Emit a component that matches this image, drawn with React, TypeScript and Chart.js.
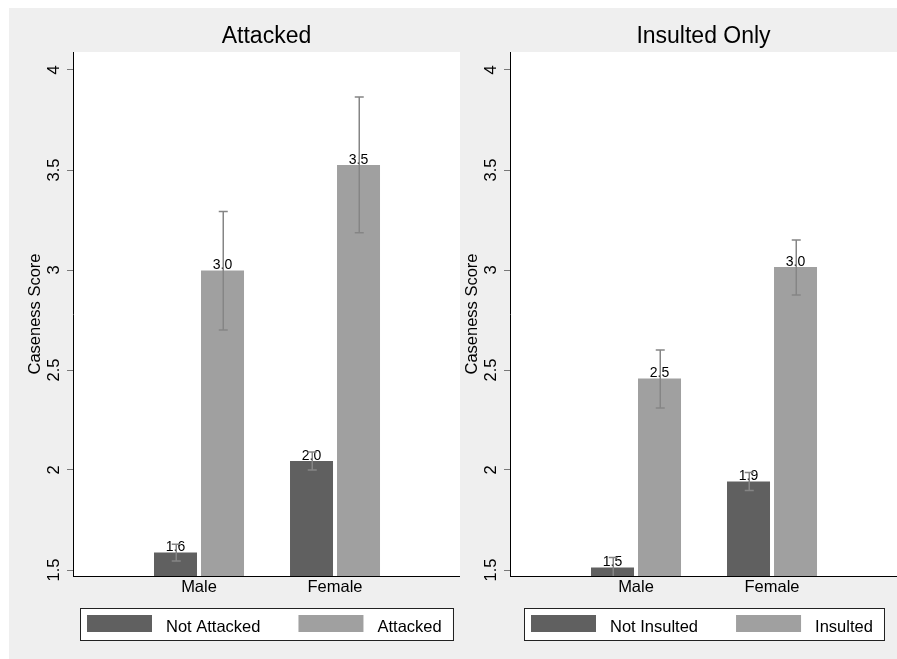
import React, { useEffect, useRef } from 'react';
import { Chart, registerables } from 'chart.js';

Chart.register(...registerables);

const FONT = "'Liberation Sans', Arial, Helvetica, sans-serif";

// ---- shared axis data ----
const categories = ['Male', 'Female'];
const yTicks = [1.5, 2, 2.5, 3, 3.5, 4];
const yAxisTitle = 'Caseness Score';
const Y_MIN = 1.47;
const Y_MAX = 4.09;
const X_MIN = 0.0735;
const X_MAX = 2.919;

// ---- panel 1: Attacked ----
const attackedPanelTitle = 'Attacked';
const notAttackedLabel = 'Not Attacked';
const notAttackedMean = [1.587, 2.045];
const notAttackedLow = [1.545, 2.0];
const notAttackedHigh = [1.629, 2.09];
const attackedLabel = 'Attacked';
const attackedMean = [2.997, 3.525];
const attackedLow = [2.70, 3.186];
const attackedHigh = [3.293, 3.865];

// ---- panel 2: Insulted Only ----
const insultedPanelTitle = 'Insulted Only';
const notInsultedLabel = 'Not Insulted';
const notInsultedMean = [1.513, 1.943];
const notInsultedLow = [1.463, 1.897];
const notInsultedHigh = [1.563, 1.987];
const insultedLabel = 'Insulted';
const insultedMean = [2.457, 3.015];
const insultedLow = [2.31, 2.875];
const insultedHigh = [2.60, 3.15];

const DARK = '#606060';
const LIGHT = '#a0a0a0';
const ERR = '#858585';

const decorPlugin = {
  id: 'panelDecor',
  beforeDraw(chart: any) {
    const { ctx, chartArea: a } = chart;
    ctx.save();
    ctx.fillStyle = '#ffffff';
    ctx.fillRect(a.left, a.top, a.right - a.left, a.bottom - a.top);
    ctx.restore();
  },
  afterDatasetsDraw(chart: any) {
    const { ctx, chartArea: a } = chart;
    const yScale = chart.scales.y;
    ctx.save();
    // value labels
    ctx.fillStyle = '#000';
    ctx.font = `14px ${FONT}`;
    ctx.textAlign = 'center';
    ctx.textBaseline = 'alphabetic';
    chart.data.datasets.forEach((ds: any, i: number) => {
      const meta = chart.getDatasetMeta(i);
      meta.data.forEach((bar: any, j: number) => {
        const v = ds.data[j].y;
        ctx.fillText(v.toFixed(1), bar.x, bar.y - 1.5);
      });
    });
    // error bars
    ctx.beginPath();
    ctx.rect(a.left, a.top, a.right - a.left, a.bottom - a.top);
    ctx.clip();
    ctx.strokeStyle = ERR;
    ctx.lineWidth = 1.5;
    chart.data.datasets.forEach((ds: any, i: number) => {
      const meta = chart.getDatasetMeta(i);
      meta.data.forEach((bar: any, j: number) => {
        const lo = yScale.getPixelForValue(ds.errLow[j]);
        const hi = yScale.getPixelForValue(ds.errHigh[j]);
        const x = Math.round(bar.x) + 0.25;
        ctx.beginPath();
        ctx.moveTo(x, lo);
        ctx.lineTo(x, hi);
        ctx.moveTo(x - 4.5, lo);
        ctx.lineTo(x + 4.5, lo);
        ctx.moveTo(x - 4.5, hi);
        ctx.lineTo(x + 4.5, hi);
        ctx.stroke();
      });
    });
    ctx.restore();
  },
  afterDraw(chart: any) {
    const { ctx, chartArea: a } = chart;
    const ds = chart.data.datasets;
    ctx.save();
    ctx.font = `16.5px ${FONT}`;
    const w1 = ctx.measureText(ds[0].label).width;
    const w2 = ctx.measureText(ds[1].label).width;
    const sw = 65, sh = 17, gap = 14, colGap = 38, padL = 7, padR = 11;
    const boxW = padL + sw + gap + w1 + colGap + sw + gap + w2 + padR;
    const cx = (a.left + a.right) / 2;
    const bx = Math.round(cx - boxW / 2);
    const by = a.bottom + 32;
    const bh = 32;
    ctx.fillStyle = '#ffffff';
    ctx.fillRect(bx, by, boxW, bh);
    ctx.strokeStyle = '#222';
    ctx.lineWidth = 1;
    ctx.strokeRect(bx + 0.5, by + 0.5, Math.round(boxW), bh);
    let x = bx + padL;
    const sy = by + 7;
    [0, 1].forEach((k) => {
      ctx.fillStyle = ds[k].backgroundColor;
      ctx.fillRect(x, sy, sw, sh);
      x += sw + gap;
      ctx.fillStyle = '#000';
      ctx.textAlign = 'left';
      ctx.textBaseline = 'alphabetic';
      ctx.fillText(ds[k].label, x, by + 23.5);
      x += (k === 0 ? w1 : w2) + colGap;
    });
    ctx.restore();
  },
};

function makeDataset(label: string, color: string, mean: number[], low: number[], high: number[]) {
  return {
    label,
    data: categories.map((_, i) => ({ x: i + 1, y: mean[i] })),
    backgroundColor: color,
    borderWidth: 0,
    categoryPercentage: 0.69118,
    barPercentage: 0.91489,
    errLow: low,
    errHigh: high,
  };
}

function makeConfig(title: string, datasets: any[], padLeft: number): any {
  return {
    type: 'bar',
    data: { datasets },
    options: {
      animation: false,
      responsive: false,
      events: [],
      layout: { padding: { left: padLeft, top: 0, right: 0, bottom: 0 } },
      plugins: {
        legend: { display: false },
        tooltip: { enabled: false },
        title: {
          display: true,
          text: title,
          fullSize: false,
          color: '#000',
          font: { family: FONT, size: 23, weight: 'normal', lineHeight: 1.2 },
          padding: { top: 14.5, bottom: 1.9 },
        },
      },
      scales: {
        x: {
          type: 'linear',
          min: X_MIN,
          max: X_MAX,
          offset: false,
          grid: { display: false, drawTicks: false },
          border: { display: true, color: '#000', width: 1 },
          afterBuildTicks: (s: any) => {
            s.ticks = categories.map((_, i) => ({ value: i + 1 }));
          },
          afterFit: (s: any) => {
            s.height = 83;
          },
          ticks: {
            callback: (v: number) => categories[Math.round(v) - 1] ?? '',
            color: '#000',
            font: { family: FONT, size: 16.5 },
            padding: 1.5,
            minRotation: 0,
            maxRotation: 0,
            autoSkip: false,
          },
        },
        y: {
          type: 'linear',
          min: Y_MIN,
          max: Y_MAX,
          afterBuildTicks: (s: any) => {
            s.ticks = yTicks.map((v) => ({ value: v }));
          },
          afterFit: (s: any) => {
            s.width = 50;
          },
          grid: { drawOnChartArea: false, drawTicks: true, tickLength: 6, color: '#777', lineWidth: 1 },
          border: { display: true, color: '#000', width: 1 },
          ticks: {
            callback: (v: number) => String(v),
            minRotation: 90,
            maxRotation: 90,
            crossAlign: 'center',
            padding: 1.5,
            autoSkip: false,
            color: '#000',
            font: { family: FONT, size: 16.5 },
          },
          title: {
            display: true,
            text: yAxisTitle,
            color: '#000',
            font: { family: FONT, size: 16.5 },
            padding: { top: 2.1, bottom: 0 },
          },
        },
      },
    },
    plugins: [decorPlugin],
  };
}

export default function App() {
  const leftRef = useRef<HTMLCanvasElement | null>(null);
  const rightRef = useRef<HTMLCanvasElement | null>(null);

  useEffect(() => {
    const left = new Chart(
      leftRef.current as HTMLCanvasElement,
      makeConfig(
        attackedPanelTitle,
        [
          makeDataset(notAttackedLabel, DARK, notAttackedMean, notAttackedLow, notAttackedHigh),
          makeDataset(attackedLabel, LIGHT, attackedMean, attackedLow, attackedHigh),
        ],
        14
      )
    );
    const right = new Chart(
      rightRef.current as HTMLCanvasElement,
      makeConfig(
        insultedPanelTitle,
        [
          makeDataset(notInsultedLabel, DARK, notInsultedMean, notInsultedLow, notInsultedHigh),
          makeDataset(insultedLabel, LIGHT, insultedMean, insultedLow, insultedHigh),
        ],
        0
      )
    );
    return () => {
      left.destroy();
      right.destroy();
    };
  }, []);

  return (
    <div
      style={{
        position: 'fixed',
        left: 9,
        top: 8,
        width: 888,
        height: 651,
        background: '#efefef',
        overflow: 'hidden',
      }}
    >
      <canvas ref={leftRef} width={451} height={651} style={{ position: 'absolute', left: 0, top: 0, display: 'block' }} />
      <canvas ref={rightRef} width={437} height={651} style={{ position: 'absolute', left: 451, top: 0, display: 'block' }} />
    </div>
  );
}
